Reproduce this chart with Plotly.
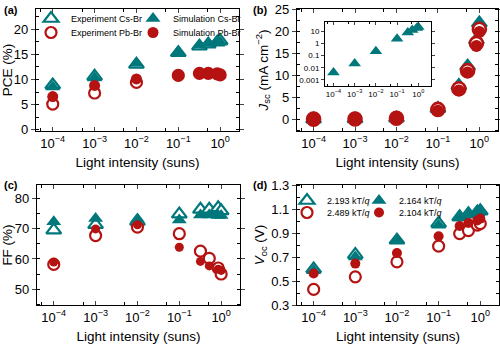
import plotly.graph_objects as go

# ---------------- data ----------------
intensity = [1e-4, 1e-3, 1e-2, 1e-1, 0.32, 0.52, 0.85, 1.0]

pce_exp_cs = [8.9, 10.6, 13.0, 15.3, 16.6, 17.0, 17.4, 17.7]
pce_sim_cs = [8.5, 10.3, 13.2, 15.5, 16.8, 17.2, 17.6, 17.4]
pce_exp_pb = [5.1, 7.3, 9.4, 10.8, 11.2, 11.2, 11.1, 10.9]
pce_sim_pb = [6.6, 8.8, 10.1, 10.9, 11.2, 11.2, 11.1, 11.0]

jsc_exp_cs = [0.0, 0.02, 0.2, 2.4, 7.6, 12.0, 18.0, 21.8]
jsc_sim_cs = [0.004, 0.022, 0.22, 2.4, 7.7, 12.2, 18.2, 22.0]
jsc_exp_pb = [0.0, 0.02, 0.2, 2.2, 6.9, 11.0, 17.2, 20.4]
jsc_sim_pb = [0.0, 0.02, 0.15, 1.9, 6.5, 10.6, 16.6, 19.8]

ff_exp_cs = [69.6, 71.4, 72.5, 74.9, 76.5, 76.5, 77.0, 76.0]
ff_sim_cs = [72.4, 73.5, 73.3, 73.0, 74.6, 74.6, 74.5, 74.5]
ff_exp_pb = [58.2, 67.8, 70.6, 68.4, 62.6, 60.2, 57.0, 55.0]
ff_sim_pb = [59.0, 70.0, 71.4, 63.9, 59.2, 57.7, 56.6, 56.2]

voc_exp_cs = [0.600, 0.720, 0.840, 0.980, 1.035, 1.060, 1.075, 1.085]
voc_sim_cs = [0.585, 0.700, 0.835, 0.965, 1.025, 1.050, 1.070, 1.075]
voc_exp_pb = [0.430, 0.535, 0.660, 0.790, 0.895, 0.920, 0.965, 0.978]
voc_sim_pb = [0.563, 0.645, 0.733, 0.873, 0.958, 0.983, 1.005, 1.020]

legend_names_a = ["Experiment Cs-Br", "Simulation Cs-Br", "Experiment Pb-Br", "Simulation Pb-Br"]
legend_names_d = ["2.193 kT/<i>q</i>", "2.164 kT/<i>q</i>", "2.489 kT/<i>q</i>", "2.104 kT/<i>q</i>"]

x_tickvals = [1e-4, 1e-3, 1e-2, 1e-1, 1]
x_ticktext = ["10<sup>\u22124</sup>", "10<sup>\u22123</sup>", "10<sup>\u22122</sup>",
              "10<sup>\u22121</sup>", "10<sup>0</sup>"]
x_minor = [5e-5, 5e-4, 5e-3, 5e-2, 5e-1]
inset_yvals = [0.001, 0.01, 0.1, 1, 10]
inset_ytext = ["0.001", "0.01", "0.1", "1", "10"]

TEAL = "#00777B"
RED = "#B51212"
FONT = "Liberation Sans, Arial, sans-serif"

fig = go.Figure()


def add(ax, y, kind, name, legend=None, size=12, lw=2.2):
    xa = "x" + ("" if ax == 1 else str(ax))
    ya = "y" + ("" if ax == 1 else str(ax))
    if kind == "exp_cs":
        m = dict(symbol="triangle-up", size=size, color="white", line=dict(color=TEAL, width=lw))
    elif kind == "sim_cs":
        m = dict(symbol="triangle-up", size=size, color=TEAL, line=dict(width=0))
    elif kind == "exp_pb":
        m = dict(symbol="circle", size=size, color="white", line=dict(color=RED, width=lw))
    else:
        m = dict(symbol="circle", size=size, color=RED, line=dict(width=0))
    tr = go.Scatter(x=intensity, y=y, mode="markers", marker=m, name=name,
                    xaxis=xa, yaxis=ya, showlegend=legend is not None, cliponaxis=False)
    if legend is not None:
        tr.legend = legend
    fig.add_trace(tr)


# (a)
add(1, pce_exp_cs, "exp_cs", legend_names_a[0], "legend", size=13)
add(1, pce_exp_pb, "exp_pb", legend_names_a[2], "legend3", size=11)
add(1, pce_sim_cs, "sim_cs", legend_names_a[1], "legend2", size=13)
add(1, pce_sim_pb, "sim_pb", legend_names_a[3], "legend4", size=11)
# (b)
add(2, jsc_exp_cs, "exp_cs", "e", size=13)
add(2, jsc_sim_cs, "sim_cs", "s", size=13)
add(2, jsc_exp_pb, "exp_pb", "e", size=13, lw=2.6)
add(2, jsc_sim_pb, "sim_pb", "s", size=12)
# (c)
add(3, ff_exp_cs, "exp_cs", "e", size=13)
add(3, ff_exp_pb, "exp_pb", "e", size=11)
add(3, ff_sim_cs, "sim_cs", "s", size=13)
add(3, ff_sim_pb, "sim_pb", "s", size=9)
# (d)
add(4, voc_exp_cs, "exp_cs", legend_names_d[0], "legend5", size=13)
add(4, voc_exp_pb, "exp_pb", legend_names_d[2], "legend7", size=11)
add(4, voc_sim_cs, "sim_cs", legend_names_d[1], "legend6", size=13)
add(4, voc_sim_pb, "sim_pb", legend_names_d[3], "legend8", size=10)
# inset
fig.add_trace(go.Scatter(x=intensity, y=jsc_sim_cs, mode="markers", xaxis="x5", yaxis="y5",
                         marker=dict(symbol="triangle-up", size=11, color=TEAL),
                         showlegend=False, cliponaxis=False))

W, H = 500, 344


def dx(a, b):
    return [a / W, b / W]


def dy(top, bottom):
    return [1 - bottom / H, 1 - top / H]


def xaxis(domain, anchor, title=True):
    return dict(type="log", domain=domain, anchor=anchor, range=[-4.4, 0.45],
                tickvals=x_tickvals, ticktext=x_ticktext, ticks="inside", ticklen=4,
                tickwidth=1, showline=True, linecolor="black", linewidth=1.2, mirror="ticks",
                showgrid=False, zeroline=False, automargin=False,
                minor=dict(tickvals=x_minor, ticks="inside", ticklen=2.5, tickcolor="black"),
                tickfont=dict(size=13, color="black", family=FONT),
                title=dict(text="Light intensity (suns)" if title else "",
                           font=dict(size=13.5, color="black", family=FONT), standoff=7))


def yaxis(domain, anchor, rng, dtick, title, tick0=0):
    return dict(domain=domain, anchor=anchor, range=rng, dtick=dtick, tick0=tick0,
                ticks="outside", ticklen=4, tickwidth=1, showline=True, linecolor="black",
                linewidth=1.2, mirror="ticks", showgrid=False, zeroline=False, automargin=False,
                minor=dict(dtick=dtick / 2, tick0=tick0, ticks="inside", ticklen=2.5, tickcolor="black"),
                tickfont=dict(size=13, color="black", family=FONT),
                title=dict(text=title, font=dict(size=13.5, color="black", family=FONT), standoff=3))


leg_common = dict(font=dict(size=9, color="black", family=FONT), bgcolor="rgba(0,0,0,0)",
                  xanchor="left", yanchor="top", tracegroupgap=0, itemwidth=30)


def leg(xl, top):
    return dict(x=xl / W, y=1 - top / H, **leg_common)


fig.update_layout(
    width=W, height=H, margin=dict(l=0, r=0, t=0, b=0),
    paper_bgcolor="white", plot_bgcolor="white",
    font=dict(family=FONT, color="black"),
    xaxis=xaxis(dx(36, 239), "y"),
    yaxis=yaxis(dy(9, 131), "x", [-0.25, 24], 5, "PCE (%)"),
    xaxis2=xaxis(dx(297, 498), "y2"),
    yaxis2=yaxis(dy(9, 131), "x2", [-2.7, 25], 5,
                 "<i>J</i><sub>sc</sub> (mA cm<sup>\u22122</sup>)"),
    xaxis3=xaxis(dx(37, 240), "y3"),
    yaxis3=yaxis(dy(185, 305), "x3", [44.7, 84.6], 10, "FF (%)"),
    xaxis4=xaxis(dx(297, 499), "y4"),
    yaxis4=yaxis(dy(185, 305), "x4", [0.3, 1.3], 0.2, "<i>V</i><sub>oc</sub> (V)", tick0=0.3),
    xaxis5=dict(type="log", domain=dx(325, 431), anchor="y5", range=[-4.4, 0.6],
                tickvals=x_tickvals, ticktext=x_ticktext, ticks="inside", ticklen=3,
                showline=True, linecolor="black", linewidth=1, mirror="ticks", showgrid=False,
                zeroline=False, automargin=False,
                minor=dict(tickvals=x_minor, ticks="inside", ticklen=2, tickcolor="black"),
                tickfont=dict(size=8, color="black", family=FONT)),
    yaxis5=dict(type="log", domain=dy(22, 86), anchor="x5", range=[-3.5, 1.75],
                tickvals=inset_yvals, ticktext=inset_ytext, ticks="outside", ticklen=3,
                showline=True, linecolor="black", linewidth=1, mirror="ticks", showgrid=False,
                zeroline=False, automargin=False,
                tickfont=dict(size=8, color="black", family=FONT)),
    legend=leg(31, 4),
    legend2=leg(133, 4),
    legend3=leg(31, 18),
    legend4=leg(133, 18),
    legend5=leg(287, 186),
    legend6=leg(359, 186),
    legend7=leg(287, 198),
    legend8=leg(359, 198),
)

for txt, xp, yp in [("(a)", 2, 2), ("(b)", 251, 2), ("(c)", 2, 177), ("(d)", 251, 177)]:
    fig.add_annotation(text="<b>%s</b>" % txt, xref="paper", yref="paper", x=xp / W, y=1 - yp / H,
                       xanchor="left", yanchor="top", showarrow=False,
                       font=dict(size=11, color="black", family=FONT))

fig.write_html("out.html")
